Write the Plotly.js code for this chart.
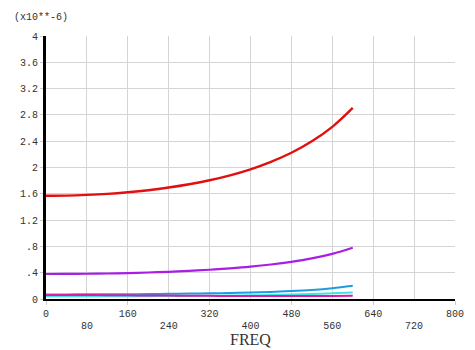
<!DOCTYPE html>
<html>
<head>
<meta charset="utf-8">
<script src="https://cdn.plot.ly/plotly-3.0.1.min.js"></script>
<style>html,body{margin:0;padding:0;background:#fff;}#chart{width:475px;height:350px;}</style>
</head>
<body>
<div id="chart"></div>
<script>
// Frequency samples (x axis, FREQ)
const freq = [0, 40, 80, 120, 160, 200, 240, 280, 320, 360, 400, 440, 480, 520, 560, 600];
// Series values (units of 1e-6)
const redSeries     = [1.570, 1.573, 1.583, 1.599, 1.623, 1.654, 1.695, 1.745, 1.806, 1.881, 1.973, 2.086, 2.224, 2.398, 2.618, 2.906];
const purpleSeries  = [0.380, 0.381, 0.384, 0.388, 0.394, 0.403, 0.414, 0.428, 0.445, 0.466, 0.492, 0.525, 0.566, 0.618, 0.687, 0.780];
const blueSeries    = [0.070, 0.070, 0.071, 0.072, 0.073, 0.075, 0.078, 0.082, 0.086, 0.091, 0.099, 0.108, 0.120, 0.137, 0.163, 0.200];
const cyanSeries    = [0.040, 0.040, 0.041, 0.041, 0.042, 0.043, 0.045, 0.047, 0.049, 0.052, 0.056, 0.061, 0.067, 0.075, 0.086, 0.100];
const magentaSeries = [0.062, 0.061, 0.060, 0.058, 0.056, 0.054, 0.052, 0.050, 0.048, 0.046, 0.045, 0.044, 0.044, 0.045, 0.046, 0.048];

// Tick labels (staggered on two rows)
const xTickUpper = [0, 160, 320, 480, 640, 800];
const xTickLower = [80, 240, 400, 560, 720];
const yTickVals = [0, 0.4, 0.8, 1.2, 1.6, 2, 2.4, 2.8, 3.2, 3.6, 4];
const yTickText = ["0", ".4", ".8", "1.2", "1.6", "2", "2.4", "2.8", "3.2", "3.6", "4"];
const xTitle = "FREQ";
const yUnit = "(x10**-6)";

const series = [
  {y: blueSeries, color: "#1e9be0", w: 2},
  {y: cyanSeries, color: "#3ce6e6", w: 2},
  {y: magentaSeries, color: "#e01aa8", w: 2},
  {y: purpleSeries, color: "#a81ee6", w: 2.2},
  {y: redSeries, color: "#e01010", w: 2.4}
];

const traces = series.map(s => ({
  x: freq, y: s.y, type: "scatter", mode: "lines",
  line: {color: s.color, width: s.w, shape: "spline"},
  hoverinfo: "skip", showlegend: false
}));
// invisible helper trace so the second (lower-row) x axis is drawn
traces.unshift({x: [0, 800], y: [0, 0], xaxis: "x2", yaxis: "y", type: "scatter", mode: "lines",
  line: {width: 0, color: "rgba(0,0,0,0)"}, hoverinfo: "skip", showlegend: false});

const tickFont = {family: "Liberation Mono, DejaVu Sans Mono, monospace", size: 10, color: "#333"};

const layout = {
  width: 475, height: 350,
  margin: {l: 46, r: 20, t: 36, b: 51, pad: 0},
  paper_bgcolor: "#fff", plot_bgcolor: "#fff",
  showlegend: false,
  xaxis: {
    range: [0, 800], tickmode: "array", tickvals: xTickUpper,
    tickfont: tickFont, ticks: "outside", ticklen: 4, tickcolor: "#ccc", tickwidth: 1,
    showgrid: true, gridcolor: "#d4d4d4", gridwidth: 1,
    showline: true, linecolor: "#000", linewidth: 2, zeroline: false
  },
  xaxis2: {
    range: [0, 800], tickmode: "array", tickvals: xTickLower,
    overlaying: "x", anchor: "y", side: "bottom",
    tickfont: tickFont, ticks: "outside", ticklen: 17, tickcolor: "rgba(0,0,0,0)", tickwidth: 1,
    showgrid: true, gridcolor: "#d4d4d4", gridwidth: 1,
    showline: false, zeroline: false
  },
  yaxis: {
    range: [0, 4], tickvals: yTickVals, ticktext: yTickText,
    tickfont: tickFont, ticks: "outside", ticklen: 3, tickcolor: "#ccc", tickwidth: 1,
    showgrid: true, gridcolor: "#d4d4d4", gridwidth: 1,
    showline: true, linecolor: "#000", linewidth: 3, zeroline: false
  },
  annotations: [
    {
      text: yUnit, xref: "paper", yref: "paper", x: -0.082, y: 1.04,
      xanchor: "left", yanchor: "bottom", showarrow: false,
      font: {family: "Liberation Mono, DejaVu Sans Mono, monospace", size: 10, color: "#333"}
    },
    {
      text: xTitle, xref: "paper", yref: "paper", x: 0.5, y: -0.19,
      xanchor: "center", yanchor: "bottom", showarrow: false, borderpad: 0,
      font: {family: "Liberation Serif, serif", size: 16, color: "#333"}
    }
  ]
};

Plotly.newPlot("chart", traces, layout, {staticPlot: true, displayModeBar: false});
</script>
</body>
</html>
